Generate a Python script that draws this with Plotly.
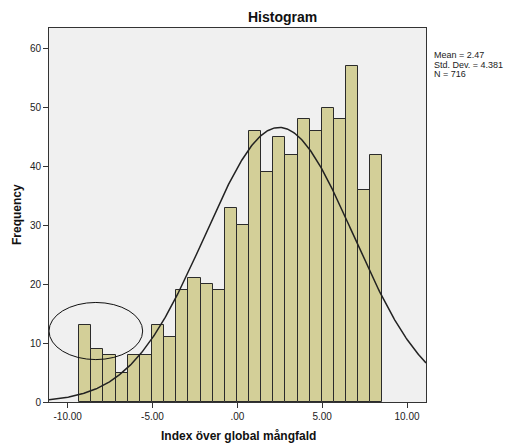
import numpy as np
import plotly.graph_objects as go

# Data
counts = [13, 9, 8, 5, 8, 8, 13, 11, 19, 21, 20, 19, 33, 30, 46, 39, 45, 42, 48, 46, 50, 48, 57, 36, 42]
bin_start = -9.32
bin_width = 0.715
mean_val = 2.47
std_val = 4.381
n_val = 716
x_tickvals = [-10, -5, 0, 5, 10]
x_ticktext = ["-10.00", "-5.00", ".00", "5.00", "10.00"]
y_tickvals = [0, 10, 20, 30, 40, 50, 60]
stats_lines = ["Mean = 2.47", "Std. Dev. = 4.381", "N = 716"]

centers = [bin_start + bin_width * (i + 0.5) for i in range(len(counts))]

W, H = 506, 444
L, R, T, B = 49, 80, 28, 42
plot_w = W - L - R
plot_h = H - T - B

xr = [-11.1, 11.12]
yr = [0, 63.5]

fig = go.Figure()
fig.add_trace(go.Bar(
    x=centers, y=counts, width=bin_width,
    marker=dict(color="#d3cf98", line=dict(color="#2b2b2b", width=1)),
    hoverinfo="skip"
))

xs = np.linspace(xr[0], xr[1], 400)
ys = n_val * bin_width / (std_val * np.sqrt(2 * np.pi)) * np.exp(-0.5 * ((xs - mean_val) / std_val) ** 2)
fig.add_trace(go.Scatter(x=xs, y=ys, mode="lines", line=dict(color="#222222", width=1.5), hoverinfo="skip"))

# ellipse annotation
fig.add_shape(type="circle", xref="x", yref="y", x0=-11.1, x1=-5.58, y0=7.2, y1=16.9,
              line=dict(color="#111111", width=1))

fig.update_layout(
    width=W, height=H,
    margin=dict(l=L, r=R, t=T, b=B, pad=0),
    paper_bgcolor="white", plot_bgcolor="#f0f0f0",
    showlegend=False, bargap=0,
    font=dict(family="Liberation Sans, Arial", size=10, color="#222222"),
)
fig.update_xaxes(range=xr, tickvals=x_tickvals, ticktext=x_ticktext, ticks="outside", ticklen=5,
                 tickcolor="#333", showgrid=False, zeroline=False, showline=True, linecolor="#333",
                 linewidth=1, mirror=True, tickfont=dict(size=10))
fig.update_yaxes(range=yr, tickvals=y_tickvals, ticks="outside", ticklen=5, tickcolor="#333",
                 showgrid=False, zeroline=False, showline=True, linecolor="#333", linewidth=1,
                 mirror=True, tickfont=dict(size=10))

# titles
fig.add_annotation(text="<b>Histogram</b>", xref="paper", yref="paper",
                   x=(282 - L) / plot_w, y=(H - B - 17) / plot_h, showarrow=False,
                   font=dict(size=14, color="#111"), xanchor="center", yanchor="middle")
fig.add_annotation(text="<b>Index över global mångfald</b>", xref="paper", yref="paper",
                   x=(238 - L) / plot_w, y=(H - B - 436) / plot_h, showarrow=False,
                   font=dict(size=12, color="#111"), xanchor="center", yanchor="middle")
fig.add_annotation(text="<b>Frequency</b>", xref="paper", yref="paper",
                   x=(17 - L) / plot_w, y=(H - B - 215) / plot_h, showarrow=False, textangle=-90,
                   font=dict(size=12, color="#111"), xanchor="center", yanchor="middle")
for i, t in enumerate(stats_lines):
    ypix = 55.5 + 9.2 * i
    fig.add_annotation(text=t, xref="paper", yref="paper", x=(432 - L) / plot_w,
                       y=(H - B - ypix) / plot_h, showarrow=False, xanchor="left", yanchor="middle",
                       font=dict(size=9, color="#222"))

fig.write_html("out.html", config={"displayModeBar": False},
               post_script="document.body.style.margin='0';document.body.style.overflow='hidden';")
